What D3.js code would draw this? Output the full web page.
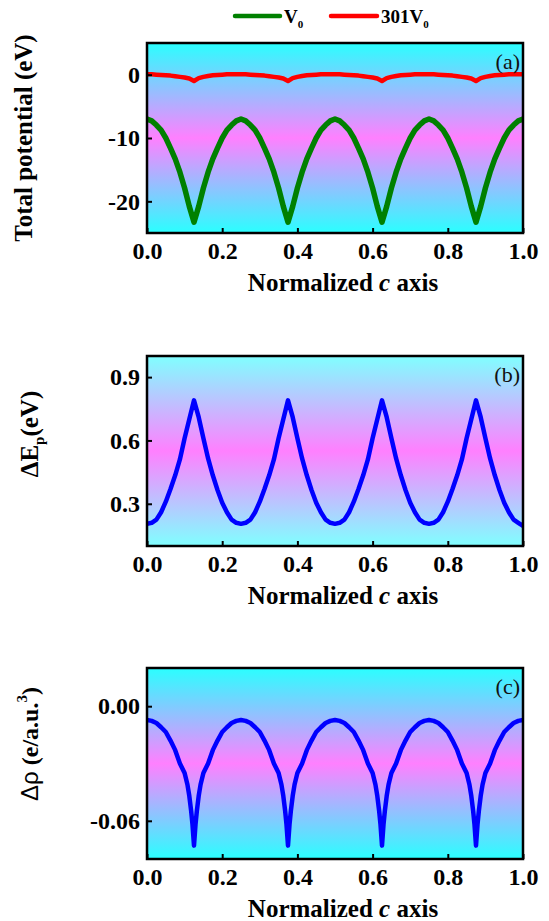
<!DOCTYPE html>
<html><head><meta charset="utf-8">
<script src="https://cdn.jsdelivr.net/npm/d3@7"></script>
<style>body{margin:0;background:#fff}svg{display:block}</style>
</head><body>
<script>
// ---------- data ----------
const xGrid = [0,0.0125,0.025,0.0375,0.05,0.0625,0.075,0.0875,0.1,0.1125,0.125,0.1375,0.15,0.1625,0.175,0.1875,0.2,0.2125,0.225,0.2375,
0.25,0.2625,0.275,0.2875,0.3,0.3125,0.325,0.3375,0.35,0.3625,0.375,0.3875,0.4,0.4125,0.425,0.4375,0.45,0.4625,0.475,0.4875,
0.5,0.5125,0.525,0.5375,0.55,0.5625,0.575,0.5875,0.6,0.6125,0.625,0.6375,0.65,0.6625,0.675,0.6875,0.7,0.7125,0.725,0.7375,
0.75,0.7625,0.775,0.7875,0.8,0.8125,0.825,0.8375,0.85,0.8625,0.875,0.8875,0.9,0.9125,0.925,0.9375,0.95,0.9625,0.975,0.9875,1];

const totalV0 = [-7.0,-7.3,-7.95,-8.75,-10.0,-11.6,-13.3,-15.4,-17.9,-20.8,-23.3,-20.8,-17.9,-15.4,-13.3,-11.6,-10.0,-8.75,-7.95,-7.3,
-7.0,-7.3,-7.95,-8.75,-10.0,-11.6,-13.3,-15.4,-17.9,-20.8,-23.3,-20.8,-17.9,-15.4,-13.3,-11.6,-10.0,-8.75,-7.95,-7.3,
-7.0,-7.3,-7.95,-8.75,-10.0,-11.6,-13.3,-15.4,-17.9,-20.8,-23.3,-20.8,-17.9,-15.4,-13.3,-11.6,-10.0,-8.75,-7.95,-7.3,
-7.0,-7.3,-7.95,-8.75,-10.0,-11.6,-13.3,-15.4,-17.9,-20.8,-23.3,-20.8,-17.9,-15.4,-13.3,-11.6,-10.0,-8.75,-7.95,-7.3,-7.0];

const total301V0 = [0.05,0.05,0.0,-0.05,-0.1,-0.15,-0.25,-0.35,-0.45,-0.6,-1.0,-0.55,-0.35,-0.2,-0.1,-0.05,0.0,0.05,0.05,0.05,
0.05,0.05,0.0,-0.05,-0.1,-0.15,-0.25,-0.35,-0.45,-0.6,-1.0,-0.55,-0.35,-0.2,-0.1,-0.05,0.0,0.05,0.05,0.05,
0.05,0.05,0.0,-0.05,-0.1,-0.15,-0.25,-0.35,-0.45,-0.6,-1.0,-0.55,-0.35,-0.2,-0.1,-0.05,0.0,0.05,0.05,0.05,
0.05,0.05,0.0,-0.05,-0.1,-0.15,-0.25,-0.35,-0.45,-0.6,-1.0,-0.55,-0.35,-0.2,-0.1,-0.05,0.0,0.05,0.05,0.05,0.05];

const deltaEp = [0.205,0.21,0.225,0.26,0.31,0.37,0.435,0.51,0.61,0.70,0.79,0.71,0.61,0.515,0.435,0.365,0.305,0.26,0.225,0.21,
0.205,0.21,0.225,0.26,0.31,0.37,0.435,0.51,0.61,0.70,0.79,0.71,0.61,0.515,0.435,0.365,0.305,0.26,0.225,0.21,
0.205,0.21,0.225,0.26,0.31,0.37,0.435,0.51,0.61,0.70,0.79,0.71,0.61,0.515,0.435,0.365,0.305,0.26,0.225,0.21,
0.205,0.21,0.225,0.26,0.31,0.37,0.435,0.51,0.61,0.70,0.79,0.71,0.61,0.515,0.435,0.365,0.305,0.26,0.225,0.21,0.195];

const xRho = [0,0.0125,0.025,0.0375,0.05,0.0625,0.075,0.0875,0.1,0.1075,0.1125,0.1175,0.121,0.125,0.129,0.1325,0.1375,0.1425,0.15,0.1625,0.175,0.1875,0.2,0.2125,0.225,0.2375,
0.25,0.2625,0.275,0.2875,0.3,0.3125,0.325,0.3375,0.35,0.3575,0.3625,0.3675,0.371,0.375,0.379,0.3825,0.3875,0.3925,0.4,0.4125,0.425,0.4375,0.45,0.4625,0.475,0.4875,
0.5,0.5125,0.525,0.5375,0.55,0.5625,0.575,0.5875,0.6,0.6075,0.6125,0.6175,0.621,0.625,0.629,0.6325,0.6375,0.6425,0.65,0.6625,0.675,0.6875,0.7,0.7125,0.725,0.7375,
0.75,0.7625,0.775,0.7875,0.8,0.8125,0.825,0.8375,0.85,0.8575,0.8625,0.8675,0.871,0.875,0.879,0.8825,0.8875,0.8925,0.9,0.9125,0.925,0.9375,0.95,0.9625,0.975,0.9875,1];

const deltaRho = [-0.0072,-0.0077,-0.0088,-0.011,-0.0135,-0.018,-0.023,-0.030,-0.035,-0.041,-0.047,-0.055,-0.062,-0.073,-0.062,-0.055,-0.047,-0.041,-0.035,-0.030,-0.023,-0.018,-0.0135,-0.011,-0.0088,-0.0077,
-0.0072,-0.0077,-0.0088,-0.011,-0.0135,-0.018,-0.023,-0.030,-0.035,-0.041,-0.047,-0.055,-0.062,-0.073,-0.062,-0.055,-0.047,-0.041,-0.035,-0.030,-0.023,-0.018,-0.0135,-0.011,-0.0088,-0.0077,
-0.0072,-0.0077,-0.0088,-0.011,-0.0135,-0.018,-0.023,-0.030,-0.035,-0.041,-0.047,-0.055,-0.062,-0.073,-0.062,-0.055,-0.047,-0.041,-0.035,-0.030,-0.023,-0.018,-0.0135,-0.011,-0.0088,-0.0077,
-0.0072,-0.0077,-0.0088,-0.011,-0.0135,-0.018,-0.023,-0.030,-0.035,-0.041,-0.047,-0.055,-0.062,-0.073,-0.062,-0.055,-0.047,-0.041,-0.035,-0.030,-0.023,-0.018,-0.0135,-0.011,-0.0088,-0.0077,-0.0072];

const xTicks = [0,0.2,0.4,0.6,0.8,1.0];
const yTicksA = [0,-10,-20];
const yTicksB = [0.3,0.6,0.9];
const yTicksC = [0,-0.06];
const legendLabels = ["V", "301V"];

// ---------- drawing ----------
const W = 549, H = 921;
const SERIF = "'Liberation Serif','Times New Roman',serif";
const svg = d3.select("body").append("svg").attr("width", W).attr("height", H);
const defs = svg.append("defs");

const x = d3.scaleLinear().domain([0, 1]).range([147, 523]);

function gradient(id, cyan, pink) {
  const g = defs.append("linearGradient").attr("id", id)
    .attr("x1", 0).attr("y1", 0).attr("x2", 0).attr("y2", 1);
  g.append("stop").attr("offset", "0%").attr("stop-color", cyan);
  g.append("stop").attr("offset", "50%").attr("stop-color", pink);
  g.append("stop").attr("offset", "100%").attr("stop-color", cyan);
}
gradient("gA", "#2affff", "#ff80ff");
gradient("gB", "#80ffff", "#ff80ff");
gradient("gC", "#2affff", "#ff80ff");

const panels = [
  {top: 43, bottom: 233, domain: [-25, 5], ticks: yTicksA, fmt: d => String(d), grad: "gA", label: "(a)",
   series: [{xs: xGrid, ys: totalV0, color: "#008000", w: 5.5}, {xs: xGrid, ys: total301V0, color: "#ff0000", w: 4.5}]},
  {top: 356, bottom: 546, domain: [0.1, 1.0], ticks: yTicksB, fmt: d => d.toFixed(1), grad: "gB", label: "(b)",
   series: [{xs: xGrid, ys: deltaEp, color: "#0000ff", w: 4.5}]},
  {top: 668, bottom: 859, domain: [-0.08, 0.02], ticks: yTicksC, fmt: d => d.toFixed(2), grad: "gC", label: "(c)",
   series: [{xs: xRho, ys: deltaRho, color: "#0000ff", w: 4.5}]}
];

panels.forEach((p, i) => {
  const y = d3.scaleLinear().domain(p.domain).range([p.bottom, p.top]);
  const g = svg.append("g");
  g.append("rect").attr("x", x(0)).attr("y", p.top).attr("width", x(1) - x(0)).attr("height", p.bottom - p.top)
    .attr("fill", `url(#${p.grad})`);

  const clipId = "clip" + i;
  defs.append("clipPath").attr("id", clipId).append("rect")
    .attr("x", x(0)).attr("y", p.top).attr("width", x(1) - x(0)).attr("height", p.bottom - p.top);

  p.series.forEach(s => {
    const pts = s.xs.map((v, k) => [v, s.ys[k]]);
    g.append("path").datum(pts)
      .attr("clip-path", `url(#${clipId})`)
      .attr("fill", "none").attr("stroke", s.color).attr("stroke-width", s.w)
      .attr("stroke-linejoin", "round").attr("stroke-linecap", "round")
      .attr("d", d3.line().x(d => x(d[0])).y(d => y(d[1])));
  });

  // axes
  const ax = g.append("g").attr("transform", `translate(0,${p.bottom})`)
    .call(d3.axisBottom(x).tickValues(xTicks).tickFormat(d => d.toFixed(1)).tickSize(-5).tickPadding(9));
  const ay = g.append("g").attr("transform", `translate(${x(0)},0)`)
    .call(d3.axisLeft(y).tickValues(p.ticks).tickFormat(p.fmt).tickSize(-5).tickPadding(7));
  [ax, ay].forEach(a => {
    a.select(".domain").remove();
    a.selectAll(".tick line").attr("stroke", "#000").attr("stroke-width", 2);
    a.selectAll(".tick text").attr("fill", "#000").attr("font-family", SERIF)
      .attr("font-weight", "bold").attr("font-size", 24);
  });

  // frame
  g.append("rect").attr("x", x(0)).attr("y", p.top).attr("width", x(1) - x(0)).attr("height", p.bottom - p.top)
    .attr("fill", "none").attr("stroke", "#000").attr("stroke-width", 2.5);

  // panel label
  g.append("text").attr("x", 520).attr("y", p.top + 26).attr("text-anchor", "end")
    .attr("font-family", SERIF).attr("font-size", 22).attr("fill", "#111").text(p.label);

  // x title
  const xt = g.append("text").attr("x", 343).attr("y", p.bottom + 58)
    .attr("text-anchor", "middle").attr("font-family", SERIF).attr("font-weight", "bold")
    .attr("font-size", 25).attr("fill", "#000");
  xt.append("tspan").text("Normalized ");
  xt.append("tspan").attr("font-style", "italic").text("c");
  xt.append("tspan").text(" axis");
});

// y titles
svg.append("text").attr("transform", "translate(32,138) rotate(-90)").attr("text-anchor", "middle")
  .attr("font-family", SERIF).attr("font-weight", "bold").attr("font-size", 25).attr("fill", "#000")
  .text("Total potential (eV)");

const tb = svg.append("text").attr("transform", "translate(38,434) rotate(-90)").attr("text-anchor", "middle")
  .attr("font-family", SERIF).attr("font-weight", "bold").attr("font-size", 25).attr("fill", "#000");
tb.append("tspan").text("ΔE");
tb.append("tspan").attr("font-size", 15).attr("dy", 6).text("p");
tb.append("tspan").attr("dy", -6).text("(eV)");

const tc = svg.append("text").attr("transform", "translate(38,744) rotate(-90)").attr("text-anchor", "middle")
  .attr("font-family", SERIF).attr("font-weight", "bold").attr("font-size", 24).attr("fill", "#000");
tc.append("tspan").attr("font-family", "'Liberation Sans',Arial,sans-serif").attr("font-weight", "normal").text("Δρ");
tc.append("tspan").text(" (e/a.u.");
tc.append("tspan").attr("font-size", 15).attr("dy", -11).text("3");
tc.append("tspan").attr("dy", 11).text(")");

// legend
const legend = [
  {label: legendLabels[0], color: "#008000", x0: 235, x1: 280, tx: 284},
  {label: legendLabels[1], color: "#ff0000", x0: 331, x1: 377, tx: 381}
];
legend.forEach(l => {
  svg.append("line").attr("x1", l.x0).attr("x2", l.x1).attr("y1", 16).attr("y2", 16)
    .attr("stroke", l.color).attr("stroke-width", 4.5).attr("stroke-linecap", "round");
  const t = svg.append("text").attr("x", l.tx).attr("y", 23).attr("font-family", SERIF)
    .attr("font-weight", "bold").attr("font-size", 19).attr("fill", "#000");
  t.append("tspan").text(l.label);
  t.append("tspan").attr("font-size", 11).attr("dy", 5).text("0");
});
</script>
</body></html>
